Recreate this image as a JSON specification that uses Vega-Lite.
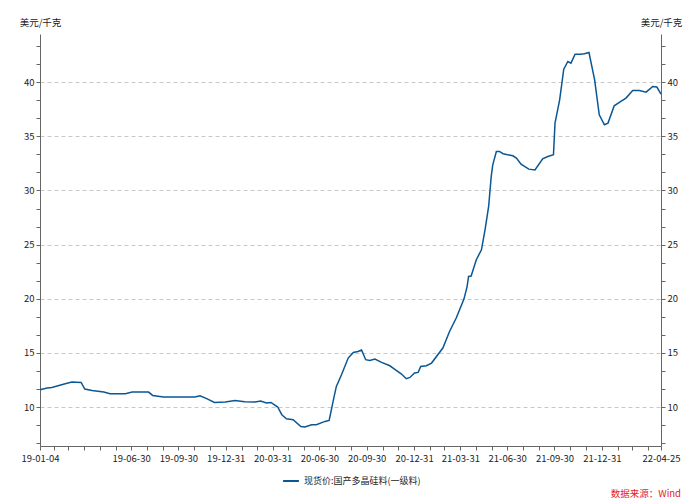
{
  "$schema": "https://vega.github.io/schema/vega-lite/v6.json",
  "autosize": "none",
  "width": 621,
  "height": 412,
  "padding": {"left": 40, "top": 34, "right": 39, "bottom": 56},
  "background": "white",
  "config": {
    "view": {"stroke": null},
    "font": "Noto Sans CJK SC",
    "axis": {"labelFont": "Noto Sans CJK SC", "labelFontSize": 9.5, "labelColor": "#222", "domainColor": "#666", "tickColor": "#666", "tickSize": 4, "titleFont": "Noto Sans CJK SC", "titleFontSize": 9.5, "titleFontWeight": "normal", "titleColor": "#222", "labelOverlap": false},
    "axisX": {"labelOverlap": false}
  },
  "title": {"text": "数据来源：Wind", "orient": "bottom", "anchor": "end", "frame": "group", "color": "#e31a1c", "fontSize": 9.5, "fontWeight": "normal", "font": "Noto Sans CJK SC", "offset": 3, "dx": 20},
  "data": {"values": [
    {"d": "2019-01-04", "v": 11.6},
    {"d": "2019-01-18", "v": 11.75},
    {"d": "2019-01-27", "v": 11.8},
    {"d": "2019-02-22", "v": 12.15},
    {"d": "2019-03-07", "v": 12.3},
    {"d": "2019-03-25", "v": 12.27},
    {"d": "2019-04-01", "v": 11.66},
    {"d": "2019-04-15", "v": 11.53},
    {"d": "2019-05-08", "v": 11.38},
    {"d": "2019-05-20", "v": 11.23},
    {"d": "2019-06-19", "v": 11.23},
    {"d": "2019-07-02", "v": 11.38},
    {"d": "2019-08-03", "v": 11.38},
    {"d": "2019-08-11", "v": 11.07},
    {"d": "2019-09-01", "v": 10.92},
    {"d": "2019-11-01", "v": 10.92},
    {"d": "2019-11-11", "v": 11.04},
    {"d": "2019-11-24", "v": 10.77},
    {"d": "2019-12-09", "v": 10.42},
    {"d": "2019-12-30", "v": 10.46},
    {"d": "2020-01-18", "v": 10.61},
    {"d": "2020-02-06", "v": 10.49},
    {"d": "2020-02-26", "v": 10.46},
    {"d": "2020-03-08", "v": 10.55},
    {"d": "2020-03-19", "v": 10.37},
    {"d": "2020-03-28", "v": 10.42},
    {"d": "2020-04-10", "v": 10.0},
    {"d": "2020-04-18", "v": 9.29},
    {"d": "2020-04-27", "v": 8.92},
    {"d": "2020-05-10", "v": 8.83},
    {"d": "2020-05-25", "v": 8.2},
    {"d": "2020-06-02", "v": 8.15},
    {"d": "2020-06-15", "v": 8.37},
    {"d": "2020-06-24", "v": 8.37},
    {"d": "2020-07-11", "v": 8.67},
    {"d": "2020-07-19", "v": 8.76},
    {"d": "2020-07-28", "v": 10.83},
    {"d": "2020-08-02", "v": 11.9},
    {"d": "2020-08-12", "v": 12.98},
    {"d": "2020-08-25", "v": 14.52},
    {"d": "2020-09-04", "v": 15.04},
    {"d": "2020-09-13", "v": 15.13},
    {"d": "2020-09-20", "v": 15.26},
    {"d": "2020-09-28", "v": 14.37},
    {"d": "2020-10-06", "v": 14.3},
    {"d": "2020-10-16", "v": 14.43},
    {"d": "2020-10-29", "v": 14.12},
    {"d": "2020-11-14", "v": 13.81},
    {"d": "2020-11-23", "v": 13.51},
    {"d": "2020-12-06", "v": 13.07},
    {"d": "2020-12-16", "v": 12.61},
    {"d": "2020-12-23", "v": 12.73},
    {"d": "2021-01-01", "v": 13.14},
    {"d": "2021-01-08", "v": 13.2},
    {"d": "2021-01-13", "v": 13.75},
    {"d": "2021-01-24", "v": 13.81},
    {"d": "2021-02-03", "v": 14.06},
    {"d": "2021-02-25", "v": 15.45},
    {"d": "2021-03-10", "v": 16.98},
    {"d": "2021-03-23", "v": 18.22},
    {"d": "2021-04-07", "v": 19.97},
    {"d": "2021-04-13", "v": 21.1},
    {"d": "2021-04-16", "v": 22.06},
    {"d": "2021-04-21", "v": 22.1},
    {"d": "2021-05-01", "v": 23.6},
    {"d": "2021-05-11", "v": 24.52},
    {"d": "2021-05-18", "v": 26.37},
    {"d": "2021-05-25", "v": 28.52},
    {"d": "2021-05-30", "v": 31.29},
    {"d": "2021-06-02", "v": 32.37},
    {"d": "2021-06-09", "v": 33.6},
    {"d": "2021-06-15", "v": 33.6},
    {"d": "2021-06-22", "v": 33.39},
    {"d": "2021-07-11", "v": 33.2},
    {"d": "2021-07-18", "v": 32.99},
    {"d": "2021-07-27", "v": 32.43},
    {"d": "2021-08-11", "v": 31.97},
    {"d": "2021-08-23", "v": 31.9},
    {"d": "2021-09-07", "v": 32.93},
    {"d": "2021-09-17", "v": 33.14},
    {"d": "2021-09-28", "v": 33.3},
    {"d": "2021-10-01", "v": 36.22},
    {"d": "2021-10-10", "v": 38.37},
    {"d": "2021-10-18", "v": 41.2},
    {"d": "2021-10-26", "v": 41.91},
    {"d": "2021-11-01", "v": 41.76},
    {"d": "2021-11-09", "v": 42.59},
    {"d": "2021-11-19", "v": 42.59},
    {"d": "2021-11-27", "v": 42.62},
    {"d": "2021-12-06", "v": 42.74},
    {"d": "2021-12-17", "v": 40.22},
    {"d": "2021-12-26", "v": 36.99},
    {"d": "2022-01-05", "v": 36.07},
    {"d": "2022-01-12", "v": 36.22},
    {"d": "2022-01-24", "v": 37.82},
    {"d": "2022-02-06", "v": 38.22},
    {"d": "2022-02-16", "v": 38.53},
    {"d": "2022-03-01", "v": 39.23},
    {"d": "2022-03-14", "v": 39.23},
    {"d": "2022-03-27", "v": 39.08},
    {"d": "2022-04-09", "v": 39.6},
    {"d": "2022-04-17", "v": 39.55},
    {"d": "2022-04-25", "v": 38.9}
  ]},
  "encoding": {
    "x": {
      "field": "d", "type": "temporal",
      "scale": {"type": "utc", "domain": [{"year": 2019, "month": 1, "date": 4, "utc": true}, {"year": 2022, "month": 4, "date": 25, "utc": true}]},
      "axis": {
        "title": null, "grid": false, "labelOverlap": false, "labelFlush": false, "labelPadding": 3,
        "values": [
          {"year": 2019, "month": 1, "date": 4, "utc": true},
          {"year": 2019, "month": 1, "date": 31, "utc": true},
          {"year": 2019, "month": 2, "date": 28, "utc": true},
          {"year": 2019, "month": 3, "date": 31, "utc": true},
          {"year": 2019, "month": 4, "date": 30, "utc": true},
          {"year": 2019, "month": 5, "date": 31, "utc": true},
          {"year": 2019, "month": 6, "date": 30, "utc": true},
          {"year": 2019, "month": 7, "date": 31, "utc": true},
          {"year": 2019, "month": 8, "date": 31, "utc": true},
          {"year": 2019, "month": 9, "date": 30, "utc": true},
          {"year": 2019, "month": 10, "date": 31, "utc": true},
          {"year": 2019, "month": 11, "date": 30, "utc": true},
          {"year": 2019, "month": 12, "date": 31, "utc": true},
          {"year": 2020, "month": 1, "date": 31, "utc": true},
          {"year": 2020, "month": 2, "date": 29, "utc": true},
          {"year": 2020, "month": 3, "date": 31, "utc": true},
          {"year": 2020, "month": 4, "date": 30, "utc": true},
          {"year": 2020, "month": 5, "date": 31, "utc": true},
          {"year": 2020, "month": 6, "date": 30, "utc": true},
          {"year": 2020, "month": 7, "date": 31, "utc": true},
          {"year": 2020, "month": 8, "date": 31, "utc": true},
          {"year": 2020, "month": 9, "date": 30, "utc": true},
          {"year": 2020, "month": 10, "date": 31, "utc": true},
          {"year": 2020, "month": 11, "date": 30, "utc": true},
          {"year": 2020, "month": 12, "date": 31, "utc": true},
          {"year": 2021, "month": 1, "date": 31, "utc": true},
          {"year": 2021, "month": 2, "date": 28, "utc": true},
          {"year": 2021, "month": 3, "date": 31, "utc": true},
          {"year": 2021, "month": 4, "date": 30, "utc": true},
          {"year": 2021, "month": 5, "date": 31, "utc": true},
          {"year": 2021, "month": 6, "date": 30, "utc": true},
          {"year": 2021, "month": 7, "date": 31, "utc": true},
          {"year": 2021, "month": 8, "date": 31, "utc": true},
          {"year": 2021, "month": 9, "date": 30, "utc": true},
          {"year": 2021, "month": 10, "date": 31, "utc": true},
          {"year": 2021, "month": 11, "date": 30, "utc": true},
          {"year": 2021, "month": 12, "date": 31, "utc": true},
          {"year": 2022, "month": 1, "date": 31, "utc": true},
          {"year": 2022, "month": 2, "date": 28, "utc": true},
          {"year": 2022, "month": 3, "date": 31, "utc": true},
          {"year": 2022, "month": 4, "date": 25, "utc": true}
        ],
        "labelExpr": "indexof(['19-01-04','19-06-30','19-09-30','19-12-31','20-03-31','20-06-30','20-09-30','20-12-31','21-03-31','21-06-30','21-09-30','21-12-31','22-04-25'], utcFormat(datum.value, '%y-%m-%d')) >= 0 ? utcFormat(datum.value, '%y-%m-%d') : ''"
      }
    }
  },
  "layer": [
    {
      "mark": {"type": "line", "strokeWidth": 1.5, "interpolate": "linear"},
      "encoding": {
        "y": {
          "field": "v", "type": "quantitative",
          "scale": {"domain": [6.4, 44.45], "nice": false, "zero": false},
          "axis": {
            "orient": "left", "title": "美元/千克", "titleAngle": 0, "titleX": 0, "titleY": -7, "titleAlign": "center", "titleBaseline": "bottom",
            "values": [6.6667, 8.3333, 10, 11.6667, 13.3333, 15, 16.6667, 18.3333, 20, 21.6667, 23.3333, 25, 26.6667, 28.3333, 30, 31.6667, 33.3333, 35, 36.6667, 38.3333, 40, 41.6667, 43.3333],
            "labelExpr": "abs(datum.value - round(datum.value/5)*5) < 0.01 ? format(datum.value, 'd') : ''",
            "labelPadding": 2,
            "grid": true, "gridColor": "#c8c8c8", "gridDash": [4, 3], "gridWidth": 1,
            "gridOpacity": {"condition": {"test": "abs(datum.value - round(datum.value/5)*5) < 0.01", "value": 1}, "value": 0}
          }
        },
        "color": {
          "datum": "现货价:国产多晶硅料(一级料)",
          "scale": {"range": ["#0b5794"]},
          "legend": {"title": null, "orient": "none", "legendX": 242, "legendY": 438, "direction": "horizontal", "symbolType": "stroke", "symbolSize": 250, "symbolStrokeWidth": 2, "labelFontSize": 9, "labelFont": "Noto Sans CJK SC", "labelColor": "#222", "padding": 0}
        }
      }
    },
    {
      "mark": {"type": "line", "opacity": 0},
      "encoding": {
        "y": {
          "field": "v", "type": "quantitative",
          "axis": {
            "orient": "right", "title": "美元/千克", "titleAngle": 0, "titleX": 0, "titleY": -7, "titleAlign": "center", "titleBaseline": "bottom",
            "values": [6.6667, 8.3333, 10, 11.6667, 13.3333, 15, 16.6667, 18.3333, 20, 21.6667, 23.3333, 25, 26.6667, 28.3333, 30, 31.6667, 33.3333, 35, 36.6667, 38.3333, 40, 41.6667, 43.3333],
            "labelExpr": "abs(datum.value - round(datum.value/5)*5) < 0.01 ? format(datum.value, 'd') : ''",
            "labelPadding": 2, "grid": false
          }
        }
      }
    }
  ],
  "resolve": {"axis": {"y": "independent"}}
}
